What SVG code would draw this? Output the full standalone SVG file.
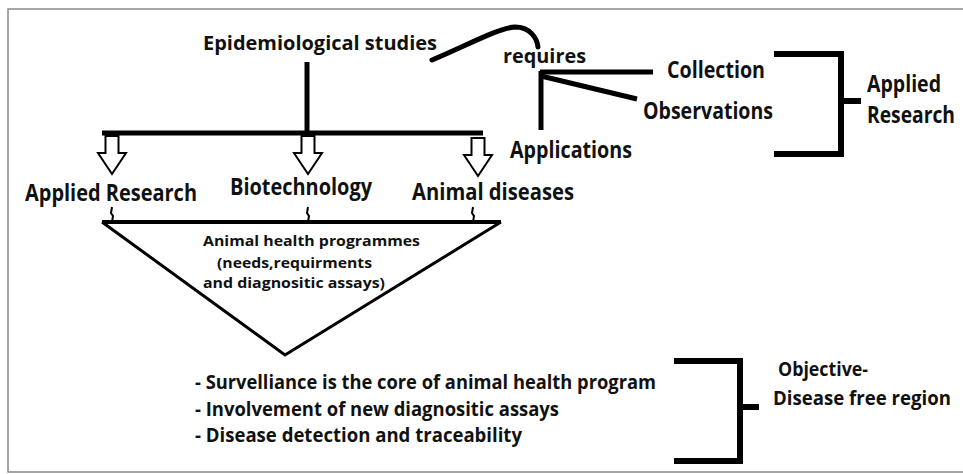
<svg xmlns="http://www.w3.org/2000/svg" width="963" height="474" viewBox="0 0 963 474">
<style>
  text { font-family: "Open Sans", Lato, "Liberation Sans", sans-serif; font-weight: bold; fill: #111; }
  .big { font-size: 22.5px; }
  .mid { font-size: 19.5px; }
  .sm { font-size: 14.5px; }
  .thick { stroke: #000; stroke-width: 5; fill: none; }
  .brk { stroke: #000; stroke-width: 6; fill: none; }
  .thin { stroke: #000; stroke-width: 2; fill: none; }
  .hollow { stroke: #000; stroke-width: 2; fill: #fff; stroke-linejoin: miter; }
</style>
<defs>
  <path id="harrow" d="M-6.5,0 V17 H-14 L0,38 L14,17 H6.5 V0 Z"/>
</defs>
<rect x="8" y="9" width="962" height="463" fill="#fff" stroke="#888" stroke-width="1.5"/>

<g id="connectors">
  <path class="thick" d="M307,62 V133"/>
  <path class="thick" d="M102,133 H483"/>
  <use href="#harrow" x="112" y="136" class="hollow"/>
  <use href="#harrow" x="308" y="136" class="hollow"/>
  <use href="#harrow" x="478" y="138" class="hollow"/>
  <path class="thick" stroke-linecap="round" d="M432,60 C468,45 498,28 515,27 C530,27 537,38 538,47"/>
  <path class="thick" d="M540,72 H653"/>
  <path class="thick" d="M541,76 L637,99"/>
  <path class="thick" d="M541,71 V130"/>
  <path class="thin" d="M112,207 L111,213 L113,216 L112,222"/>
  <path class="thin" d="M308,207 L307,213 L309,216 L308,222"/>
  <path class="thin" d="M473,207 L472,213 L474,216 L473,222"/>
  <path class="brk" d="M774,54 H841 V154 H774 M841,101 H861"/>
  <path class="brk" d="M674,361 H740 V461 H674 M740,407 H759"/>
</g>

<g id="epidemiological">
  <text class="mid" x="203" y="50" textLength="234" lengthAdjust="spacingAndGlyphs">Epidemiological studies</text>
</g>
<g id="requires">
  <text class="mid" x="503" y="63" textLength="83" lengthAdjust="spacingAndGlyphs">requires</text>
</g>
<g id="collection">
  <text class="big" x="667" y="78" textLength="98" lengthAdjust="spacingAndGlyphs">Collection</text>
</g>
<g id="observations">
  <text class="big" x="643" y="119" textLength="130" lengthAdjust="spacingAndGlyphs">Observations</text>
</g>
<g id="applications">
  <text class="big" x="510" y="158" textLength="122" lengthAdjust="spacingAndGlyphs">Applications</text>
</g>
<g id="applied-research-right">
  <text class="big" x="867" y="92" textLength="74" lengthAdjust="spacingAndGlyphs">Applied</text>
  <text class="big" x="867" y="123" textLength="88" lengthAdjust="spacingAndGlyphs">Research</text>
</g>
<g id="applied-research">
  <text class="big" x="25" y="201" textLength="172" lengthAdjust="spacingAndGlyphs">Applied Research</text>
</g>
<g id="biotechnology">
  <text class="big" x="230" y="195" textLength="142" lengthAdjust="spacingAndGlyphs">Biotechnology</text>
</g>
<g id="animal-diseases">
  <text class="big" x="412" y="200" textLength="162" lengthAdjust="spacingAndGlyphs">Animal diseases</text>
</g>
<g id="animal-health-programmes">
  <path d="M102,222 H501" stroke="#000" stroke-width="4" fill="none"/>
  <path d="M102,222 L285,355 L501,222" stroke="#000" stroke-width="3" fill="none" stroke-linejoin="miter"/>
  <text class="sm" x="203" y="246" textLength="217" lengthAdjust="spacingAndGlyphs">Animal health programmes</text>
  <text class="sm" x="217" y="268" textLength="155" lengthAdjust="spacingAndGlyphs">(needs,requirments</text>
  <text class="sm" x="203" y="288" textLength="182" lengthAdjust="spacingAndGlyphs">and diagnositic assays)</text>
</g>
<g id="bullets">
  <text class="mid" x="195" y="389" textLength="461" lengthAdjust="spacingAndGlyphs">- Survelliance is the core of animal health program</text>
  <text class="mid" x="195" y="416" textLength="364" lengthAdjust="spacingAndGlyphs">- Involvement of new diagnositic assays</text>
  <text class="mid" x="195" y="442" textLength="327" lengthAdjust="spacingAndGlyphs">- Disease detection and traceability</text>
</g>
<g id="objective">
  <text class="mid" x="778" y="376" textLength="90" lengthAdjust="spacingAndGlyphs">Objective-</text>
  <text class="mid" x="773" y="405" textLength="178" lengthAdjust="spacingAndGlyphs">Disease free region</text>
</g>
</svg>
